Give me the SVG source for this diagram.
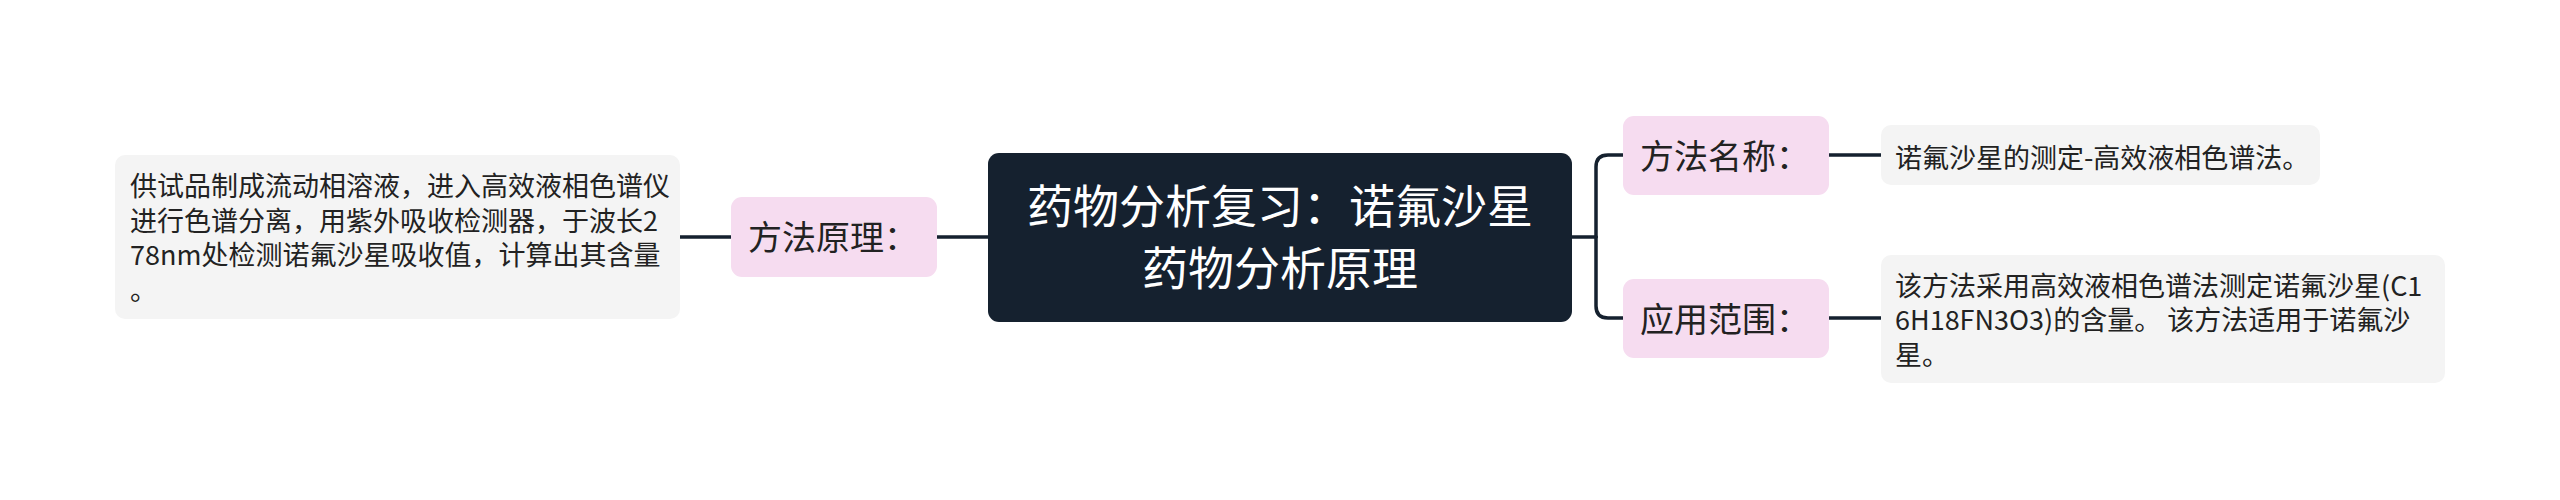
<svg xmlns="http://www.w3.org/2000/svg" width="2560" height="500" viewBox="0 0 2560 500">
<style>
.bg{fill:#ffffff}
.root{fill:#15212f}
.sub{fill:#f6dcf0}
.leaf{fill:#f4f4f4}
.t{font-family:"Noto Sans CJK SC","Noto Sans",sans-serif;fill:#222222}
.rt{font-family:"Noto Sans CJK SC","Noto Sans",sans-serif;fill:#ffffff;font-size:46px;text-anchor:middle}
.st{font-size:34px}
.lt{font-size:27px}
.conn{fill:none;stroke:#15212f;stroke-width:3.5;stroke-linecap:round}
</style>
<rect class="bg" x="0" y="0" width="2560" height="500"/>
<g id="connectors">
<path class="conn" d="M1572,237 H1596"/>
<path class="conn" d="M1596,237 V167 Q1596,155 1608,155 H1623"/>
<path class="conn" d="M1596,237 V306 Q1596,318 1608,318 H1623"/>
<path class="conn" d="M1829,155 H1881"/>
<path class="conn" d="M1829,318 H1881"/>
<path class="conn" d="M988,237 H937"/>
<path class="conn" d="M731,237 H680"/>
</g>
<g id="root">
<rect class="root" x="988" y="153" width="584" height="169" rx="11"/>
<text class="rt" x="1280" y="223">药物分析复习：诺氟沙星</text>
<text class="rt" x="1280" y="284.5">药物分析原理</text>
</g>
<g id="node-method-name">
<rect class="sub" x="1623" y="116" width="206" height="79" rx="11"/>
<text class="t st" x="1640" y="169">方法名称：</text>
</g>
<g id="node-scope">
<rect class="sub" x="1623" y="279" width="206" height="79" rx="11"/>
<text class="t st" x="1640" y="332">应用范围：</text>
</g>
<g id="node-principle">
<rect class="sub" x="731" y="197" width="206" height="80" rx="11"/>
<text class="t st" x="748" y="249.5">方法原理：</text>
</g>
<g id="leaf-method-name">
<rect class="leaf" x="1881" y="125" width="439" height="60" rx="10"/>
<text class="t lt" x="1895" y="168">诺氟沙星的测定-高效液相色谱法。</text>
</g>
<g id="leaf-scope">
<rect class="leaf" x="1881" y="255" width="564" height="128" rx="10"/>
<text class="t lt" x="1895" y="295.5">该方法采用高效液相色谱法测定诺氟沙星(C1</text>
<text class="t lt" x="1895" y="330" xml:space="preserve">6H18FN3O3)的含量。 该方法适用于诺氟沙</text>
<text class="t lt" x="1895" y="364.5">星。</text>
</g>
<g id="leaf-principle">
<rect class="leaf" x="115" y="155" width="565" height="164" rx="10"/>
<text class="t lt" x="130" y="196">供试品制成流动相溶液，进入高效液相色谱仪</text>
<text class="t lt" x="130" y="230.5">进行色谱分离，用紫外吸收检测器，于波长2</text>
<text class="t lt" x="130" y="265">78nm处检测诺氟沙星吸收值，计算出其含量</text>
<text class="t lt" x="130" y="299.5">。</text>
</g>
</svg>
